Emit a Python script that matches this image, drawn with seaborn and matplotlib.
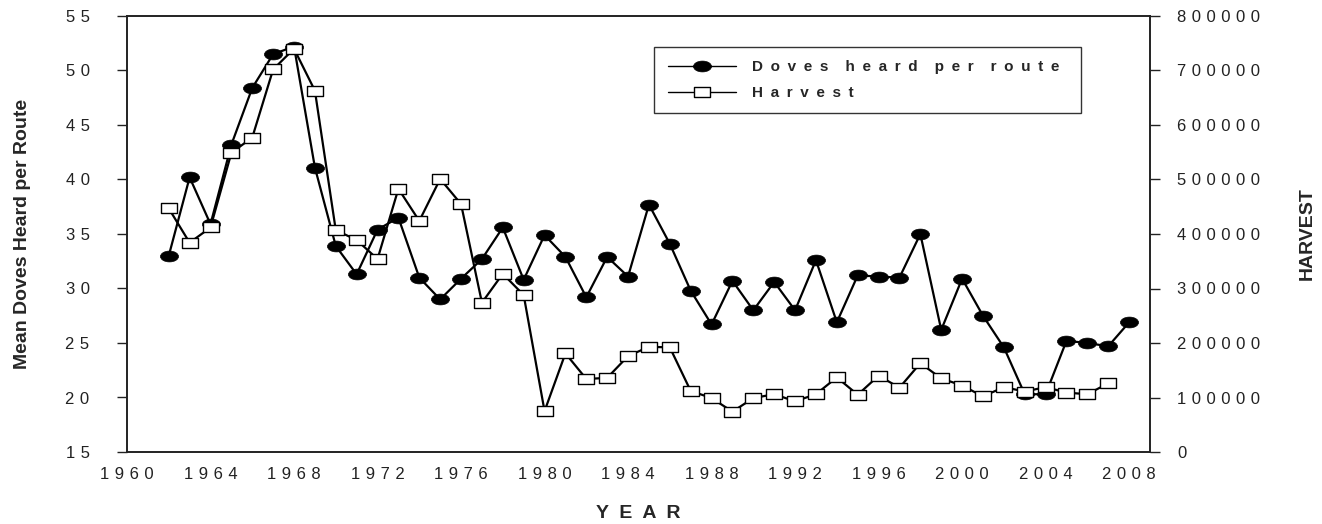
import numpy as np
import pandas as pd
import matplotlib
matplotlib.use("Agg")
import matplotlib.pyplot as plt
import seaborn as sns
from matplotlib.path import Path
from matplotlib.transforms import Affine2D

# values
dove_years = list(range(1962, 2009))
doves = [33.0, 40.2, 35.9, 43.2, 48.4, 51.5, 52.2, 41.1, 33.9, 31.3,
         35.4, 36.5, 31.0, 29.0, 30.9, 32.7, 35.6, 30.8, 34.9, 32.9,
         29.2, 32.9, 31.1, 37.7, 34.1, 29.8, 26.7, 30.7, 28.0, 30.6,
         28.0, 32.6, 26.9, 31.2, 31.1, 31.0, 35.0, 26.2, 30.9, 27.5,
         24.6, 20.3, 20.3, 25.2, 25.0, 24.7, 26.9]

harvest_years = list(range(1962, 2008))
harvest = [447000, 384000, 412000, 549000, 577000, 702000, 740000, 663000,
           407000, 389000, 354000, 483000, 424000, 501000, 455000, 274000,
           327000, 288000, 75000, 181000, 134000, 136000, 176000, 193000,
           192000, 112000, 99000, 74000, 99000, 106000, 93000, 106000,
           137000, 105000, 140000, 118000, 163000, 135000, 122000, 102000,
           119000, 111000, 119000, 109000, 106000, 126000]

x_ticks = list(range(1960, 2009, 4))
left_ticks = list(range(15, 56, 5))
right_ticks = list(range(0, 800001, 100000))

df_doves = pd.DataFrame({"year": dove_years, "doves": doves})
df_harvest = pd.DataFrame({"year": harvest_years, "harvest": harvest})

sns.set_style("white")
plt.rcParams['font.family'] = ['Liberation Sans', 'DejaVu Sans']

SP = "\u2004"  # three-per-em space between digits, like the reference
EN = "\u2002"


def spaced(v, sep=SP):
    return sep.join(str(v))


def legend_text(words):
    return "    ".join(spaced(w, EN) for w in words.split()) + "  "


ellipse = Path.unit_circle().transformed(Affine2D().scale(1.0, 0.6))
rect = Path([(-1, -0.56), (1, -0.56), (1, 0.56), (-1, 0.56), (-1, -0.56)],
            [Path.MOVETO, Path.LINETO, Path.LINETO, Path.LINETO, Path.CLOSEPOLY])

fig = plt.figure(figsize=(13.22, 5.24), dpi=100)
ax = fig.add_axes([127 / 1322, 1 - 452 / 524, 1023 / 1322, 436 / 524])
ax2 = ax.twinx()

sns.lineplot(data=df_doves, x="year", y="doves", ax=ax, color="black",
             linewidth=1.6, marker=ellipse, markersize=13,
             markerfacecolor="black", markeredgecolor="black",
             markeredgewidth=0.5, label=legend_text("Doves heard per route"),
             legend=False)
sns.lineplot(data=df_harvest, x="year", y="harvest", ax=ax2, color="black",
             linewidth=1.6, marker=rect, markersize=12,
             markerfacecolor="white", markeredgecolor="black",
             markeredgewidth=1.0, label=legend_text("Harvest"), legend=False)

ax.set_xlim(1960, 2009)
ax.set_ylim(15, 55)
ax2.set_ylim(0, 800000)

ax.set_xticks(x_ticks)
ax.set_xticklabels([spaced(t) for t in x_ticks])
ax.set_yticks(left_ticks)
ax.set_yticklabels([spaced(t) for t in left_ticks])
ax2.set_yticks(right_ticks)
ax2.set_yticklabels([spaced(t) for t in right_ticks])

for a in (ax, ax2):
    a.tick_params(axis="both", direction="out", length=7, width=1,
                  labelsize=12, colors="#222222", pad=6)
    for s in a.spines.values():
        s.set_color("#222222")
        s.set_linewidth(1.2)
    a.grid(False)

ax.tick_params(axis="x", length=6, pad=5)
ax.tick_params(axis="y", pad=20)
ax2.tick_params(axis="y", pad=12.5)

ax.set_xlabel("Y  E  A  R", fontsize=14, fontweight="bold", labelpad=16)
ax.set_ylabel("Mean Doves Heard per Route", fontsize=14, fontweight="bold",
              labelpad=25)
ax2.set_ylabel("HARVEST", fontsize=14, fontweight="bold", labelpad=28)

h1, l1 = ax.get_legend_handles_labels()
h2, l2 = ax2.get_legend_handles_labels()
leg = ax2.legend(h1 + h2, l1 + l2, loc="upper right",
                 bbox_to_anchor=(0.9326, 0.929), borderaxespad=0,
                 frameon=True, fancybox=False, handlelength=4.5,
                 prop={"weight": "bold", "size": 11}, borderpad=0.88,
                 labelspacing=0.75, handletextpad=1.0)
leg.get_frame().set_edgecolor("black")
leg.get_frame().set_linewidth(1.0)
for line in leg.get_lines():
    line.set_linewidth(1.0)

fig.savefig("out.png", dpi=100)
